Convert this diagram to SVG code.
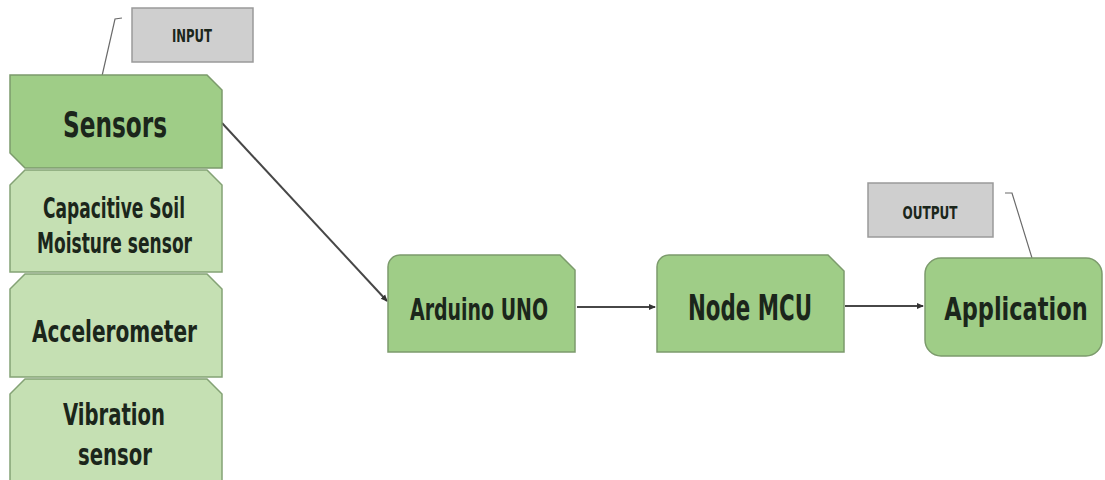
<svg xmlns="http://www.w3.org/2000/svg" width="1105" height="480" viewBox="0 0 1105 480">
<style>
.bg{fill:#ffffff}
.main{fill:#9fcd87;stroke:#7c9b6c;stroke-width:1.5}
.sub{fill:#c5e0b3;stroke:#84a275;stroke-width:1.5}
.tag{fill:#cfcfcf;stroke:#9a9a9a;stroke-width:1.5}
.t{font-family:"DejaVu Sans Condensed","DejaVu Sans",sans-serif;font-weight:bold;fill:#1b261b;text-anchor:middle}
.conn{stroke:#474747;stroke-width:2;fill:none}
.call{stroke:#6a6a6a;stroke-width:1.2;fill:none}
</style>
<defs>
<marker id="ah" markerWidth="8" markerHeight="8" refX="6" refY="4" orient="auto" markerUnits="userSpaceOnUse">
<path d="M0,1 L7,4 L0,7 Z" fill="#333"/>
</marker>
</defs>
<rect class="bg" x="0" y="0" width="1105" height="480"/>
<g id="connectors">
<line class="conn" x1="222" y1="123" x2="387" y2="301" marker-end="url(#ah)"/>
<line class="conn" x1="577" y1="307" x2="655" y2="307" marker-end="url(#ah)"/>
<line class="conn" x1="845" y1="306" x2="923" y2="306" marker-end="url(#ah)"/>
<polyline class="call" points="122,18 115,19 102,76"/>
<polyline class="call" points="1005,193 1012,193 1032,258"/>
</g>
<g id="input-tag">
<rect class="tag" x="132" y="8" width="121" height="54"/>
<text class="t" x="192" y="42" font-size="17" textLength="40" lengthAdjust="spacingAndGlyphs">INPUT</text>
</g>
<g id="sensors">
<path class="main" d="M10,75 H207 L222,90 V168 H25 L10,153 Z"/>
<text class="t" x="115" y="137" font-size="35" textLength="104" lengthAdjust="spacingAndGlyphs">Sensors</text>
</g>
<g id="capacitive">
<path class="sub" d="M25,170 H207 L222,185 V272 H10 V185 Z"/>
<text class="t" x="114" y="218" font-size="28" textLength="142" lengthAdjust="spacingAndGlyphs">Capacitive Soil</text>
<text class="t" x="114.5" y="253" font-size="28" textLength="155" lengthAdjust="spacingAndGlyphs">Moisture sensor</text>
</g>
<g id="accelerometer">
<path class="sub" d="M25,274 H207 L222,289 V377 H10 V289 Z"/>
<text class="t" x="114.5" y="342" font-size="30" textLength="165" lengthAdjust="spacingAndGlyphs">Accelerometer</text>
</g>
<g id="vibration">
<path class="sub" d="M25,379 H207 L222,394 V484 H10 V394 Z"/>
<text class="t" x="114" y="425" font-size="31" textLength="102" lengthAdjust="spacingAndGlyphs">Vibration</text>
<text class="t" x="115" y="465" font-size="31" textLength="74" lengthAdjust="spacingAndGlyphs">sensor</text>
</g>
<g id="arduino">
<path class="main" d="M388,267 A12,12 0 0 1 400,255 H560 L575,270 V352 H388 Z"/>
<text class="t" x="479" y="320" font-size="31" textLength="138" lengthAdjust="spacingAndGlyphs">Arduino UNO</text>
</g>
<g id="nodemcu">
<path class="main" d="M657,267 A12,12 0 0 1 669,255 H828 L844,271 V352 H657 Z"/>
<text class="t" x="750" y="320" font-size="35" textLength="124" lengthAdjust="spacingAndGlyphs">Node MCU</text>
</g>
<g id="output-tag">
<rect class="tag" x="868" y="183" width="125" height="54"/>
<text class="t" x="930" y="219" font-size="18" textLength="55" lengthAdjust="spacingAndGlyphs">OUTPUT</text>
</g>
<g id="application">
<rect class="main" x="925" y="258" width="177" height="98" rx="16" ry="16"/>
<text class="t" transform="translate(1016,320) scale(1,1.3)" x="0" y="0" font-size="25">Application</text>
</g>
</svg>
